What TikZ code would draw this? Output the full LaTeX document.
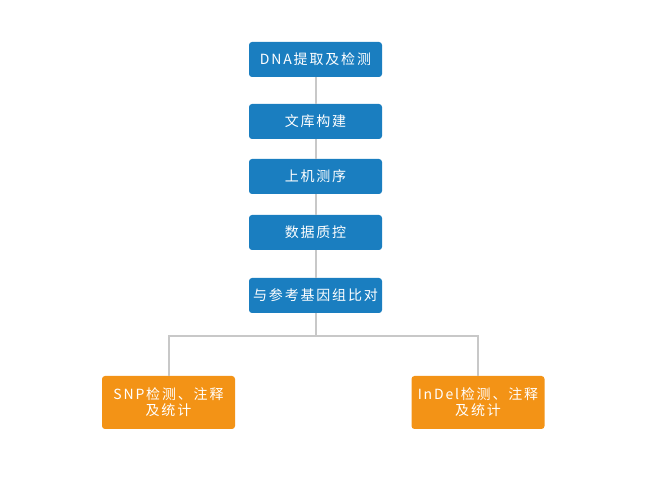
\documentclass[tikz,border=0pt]{standalone}
\usepackage{fontspec}
\usepackage{xcolor}
\usepackage{tikz}
\newfontfamily\cjk[LetterSpace=13]{Noto Sans CJK SC}
\definecolor{StepBlue}{HTML}{1A7EC0}
\definecolor{StepOrange}{HTML}{F39316}
\definecolor{LinkGray}{HTML}{C8C8C8}

\begin{document}
\begin{tikzpicture}[x=1pt, y=-1pt,
  stepbox/.style={rounded corners=3pt, minimum width=133pt, minimum height=35pt, text centered, text=white, inner sep=0pt, font=\cjk\fontsize{14}{16}\selectfont},
  blue step/.style={stepbox, fill=StepBlue},
  orange step/.style={stepbox, fill=StepOrange, minimum height=53pt, align=center},
  link/.style={draw=LinkGray, line width=2pt}]%
\useasboundingbox (0,0) rectangle (665,502);%
\node[blue step] (dna) at (315.5, 59.5) {DNA提取及检测};%
\node[blue step] (lib) at (315.5, 121.5) {文库构建};%
\node[blue step] (seq) at (315.5, 176.5) {上机测序};%
\node[blue step] (qc) at (315.5, 232.5) {数据质控};%
\node[blue step] (map) at (315.5, 295.5) {与参考基因组比对};%
\node[orange step] (snp) at (168.5, 402.5) {SNP检测、注释\\及统计};%
\node[orange step] (indel) at (478, 402.5) {InDel检测、注释\\及统计};%
\coordinate (split) at (315.5, 336);%
\draw[link] (dna) -- (lib);%
\draw[link] (lib) -- (seq);%
\draw[link] (seq) -- (qc);%
\draw[link] (qc) -- (map);%
\draw[link] (map) -- (split);%
\draw[link] (split) -| (snp);%
\draw[link] (split) -| (indel);%
\end{tikzpicture}
\end{document}
